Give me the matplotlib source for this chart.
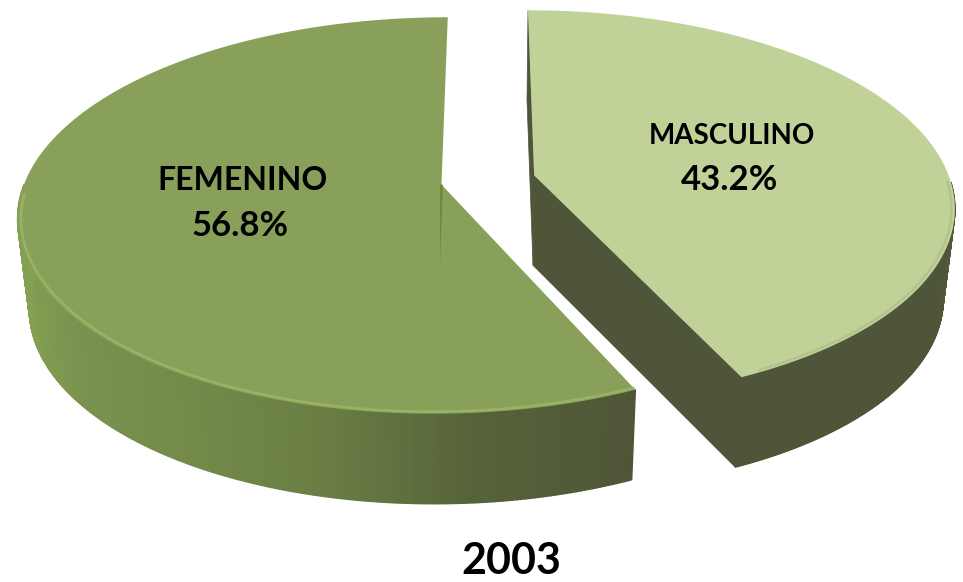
import numpy as np
from matplotlib import pyplot as plt
from matplotlib.colors import LinearSegmentedColormap

labels = ["MASCULINO", "FEMENINO"]
values = [43.2, 56.8]
title = "2003"

plt.rcParams['font.family'] = ['Lato', 'DejaVu Sans']

# projection of the tilted disc onto the picture
cx, cy = 488, 180
A, B = 416, 192
k = 0.155
explode = 0.114
depth = 90
shrink = 0.975


def project(u, v):
    s = 1 + k * v
    return cx + A * u / s, cy - B * v / s


def slice_xy(theta, r, off):
    u = off[0] + r * np.sin(theta)
    v = off[1] + r * np.cos(theta)
    return project(u, v)


def lower(x, y):
    return cx + (np.asarray(x) - cx) * shrink, np.asarray(y) + depth


fem_side = LinearSegmentedColormap.from_list(
    "fem", ["#4f5638", "#566239", "#6b7f45", "#748b4a", "#7a9350", "#84a052", "#84a052"])
mas_side = LinearSegmentedColormap.from_list(
    "mas", ["#565e3d", "#4f5539", "#4f5539", "#4f5539"])
top_colors = ["#c0d297", "#89a05a"]
rim_colors = ["#a3b184", "#9fbd66"]
rim_alpha = [0.45, 0.7]
sides = [mas_side, fem_side]

fig = plt.figure(figsize=(9.63, 5.82), dpi=100)
ax = fig.add_axes([0, 0, 1, 1])
ax.set_xlim(0, 963)
ax.set_ylim(582, 0)
ax.axis('off')

start = 0.0
for i, (name, val) in enumerate(zip(labels, values)):
    sweep = val / 100 * 2 * np.pi
    t0, t1 = start, start + sweep
    mid = (t0 + t1) / 2
    off = (explode * np.sin(mid), explode * np.cos(mid))
    th = np.linspace(t0, t1, 300)
    x, y = slice_xy(th, 1.0, off)
    ax_, ay_ = project(off[0], off[1])

    if i == 0:
        # cut faces of the masculino slice, seen from the left
        lx, ly = lower(x, y)
        bax, bay = lower(ax_, ay_)
        ax.fill([x[0], ax_, bax, lx[0]], [y[0], ay_, bay, ly[0]], color="#4f5539", lw=0.5, zorder=2)
        ax.fill([x[-1], ax_, bax, lx[-1]], [y[-1], ay_, bay, ly[-1]], color="#4f5539", lw=0.5, zorder=2)
        side_from, side_to = np.radians(92), t1
    else:
        side_from, side_to = t0, np.radians(270)

    # outer wall, as thin strips so the shading runs along the arc
    ts = np.linspace(side_from, side_to, 220)
    sx, sy = slice_xy(ts, 1.0, off)
    bx, by = lower(sx, sy)
    for j in range(len(ts) - 1):
        c = sides[i](j / (len(ts) - 2))
        ax.fill([sx[j], sx[j + 1], bx[j + 1], bx[j]], [sy[j], sy[j + 1], by[j + 1], by[j]],
                color=c, lw=1.0, zorder=3)

    # top surface
    ax.fill(np.r_[ax_, x], np.r_[ay_, y], color=top_colors[i], lw=0, zorder=4)

    # bevel along the front of the rim
    rt = np.linspace(side_from, side_to - 0.05, 200)
    rx, ry = slice_xy(rt, 0.992, off)
    ax.plot(rx, ry, color=rim_colors[i], lw=1.8, alpha=rim_alpha[i], zorder=5)

    if i == 1:
        # faint seam left on the femenino surface
        ax.fill([ax_ - 1.5, ax_ + 1.5, ax_ - 1.5], [ay_, ay_, ay_ + 80], color="#6f8a35", lw=0, zorder=5)

    start = t1

ax.text(732, 136, labels[0], ha='center', va='center', fontsize=20, fontweight='bold', color='black', zorder=6)
ax.text(730, 180, f"{values[0]}%", ha='center', va='center', fontsize=25, fontweight='bold', color='black', zorder=6)
ax.text(243, 181, labels[1], ha='center', va='center', fontsize=23, fontweight='bold', color='black', zorder=6)
ax.text(240, 226, f"{values[1]}%", ha='center', va='center', fontsize=25, fontweight='bold', color='black', zorder=6)
ax.text(511, 561, title, ha='center', va='center', fontsize=31, fontweight='bold', color='black')

fig.savefig("out.png", dpi=100)
